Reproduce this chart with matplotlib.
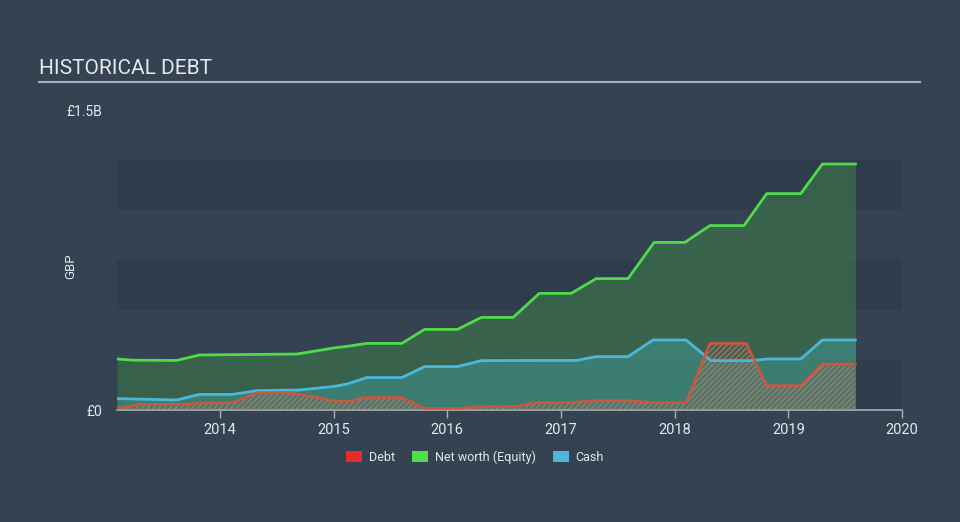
import matplotlib

matplotlib.use("Agg")
import matplotlib.pyplot as plt
from matplotlib.patches import Patch

# ── Data (GBP billions, time as decimal years) ──────────────────────────
EQUITY_T = [2013.095, 2013.24, 2013.62, 2013.82, 2014.68, 2015.0, 2015.14, 2015.29,
            2015.60, 2015.80, 2016.09, 2016.30, 2016.58, 2016.81, 2017.09, 2017.31,
            2017.59, 2017.82, 2018.09, 2018.31, 2018.61, 2018.81, 2019.11, 2019.30,
            2019.59]
EQUITY_V = [0.255, 0.249, 0.248, 0.275, 0.28, 0.31, 0.32, 0.333,
            0.333, 0.403, 0.403, 0.463, 0.463, 0.583, 0.583, 0.657,
            0.657, 0.838, 0.838, 0.922, 0.922, 1.082, 1.082, 1.23,
            1.23]

CASH_T = [2013.095, 2013.62, 2013.82, 2014.11, 2014.33, 2014.70, 2014.99, 2015.12,
          2015.29, 2015.60, 2015.80, 2016.09, 2016.30, 2017.14, 2017.31, 2017.59,
          2017.81, 2018.10, 2018.32, 2018.68, 2018.81, 2019.11, 2019.30, 2019.59]
CASH_V = [0.057, 0.05, 0.078, 0.078, 0.097, 0.10, 0.117, 0.13,
          0.162, 0.162, 0.217, 0.217, 0.247, 0.248, 0.267, 0.267,
          0.35, 0.35, 0.247, 0.247, 0.255, 0.255, 0.35, 0.35]

DEBT_T = [2013.095, 2013.30, 2013.76, 2013.82, 2014.11, 2014.33, 2014.59, 2014.82,
          2014.99, 2015.12, 2015.29, 2015.60, 2015.80, 2016.09, 2016.30, 2016.59,
          2016.79, 2017.09, 2017.31, 2017.59, 2017.81, 2018.10, 2018.31, 2018.63,
          2018.81, 2019.11, 2019.30, 2019.59]
DEBT_V = [0.008, 0.028, 0.03, 0.035, 0.036, 0.087, 0.087, 0.067,
          0.047, 0.042, 0.063, 0.063, 0.008, 0.008, 0.017, 0.017,
          0.037, 0.037, 0.047, 0.047, 0.037, 0.037, 0.333, 0.333,
          0.122, 0.122, 0.23, 0.23]

YEARS = [2014, 2015, 2016, 2017, 2018, 2019, 2020]

# ── Colours ─────────────────────────────────────────────────────────────
BG = "#344252"
BAND = "#2f3c4c"
GREEN = "#4fdc4a"
BLUE = "#4bb8da"
RED = "#e0452f"
TEXT = "#e6e9ec"
AXIS = "#a9b1ba"

fig = plt.figure(figsize=(9.6, 5.22), dpi=100)
fig.patch.set_facecolor(BG)

# ── Title + rule ──
fig.text(39 / 960, 1 - 69 / 522, "HISTORICAL DEBT", ha="left", va="center",
         fontsize=15, color=TEXT, family="Roboto")
fig.add_artist(plt.Line2D([39 / 960, 920 / 960], [1 - 82 / 522, 1 - 82 / 522],
                          color=AXIS, linewidth=1.5))

ax = fig.add_axes([117 / 960, 1 - 410 / 522, 785 / 960, 300 / 522])
ax.set_facecolor(BG)
ax.set_xlim(2013.095, 2020)
ax.set_ylim(0, 1.5)

# ── Alternating bands ──
for lo in (0.0, 0.5, 1.0):
    ax.axhspan(lo, lo + 0.25, color=BAND, zorder=0, linewidth=0)

# ── Equity ──
ax.fill_between(EQUITY_T, 0, EQUITY_V, color="#3d7a4a", alpha=0.6, linewidth=0, zorder=1)
ax.plot(EQUITY_T, EQUITY_V, color=GREEN, linewidth=2, zorder=4)

# ── Cash ──
ax.fill_between(CASH_T, 0, CASH_V, color="#3f8d88", alpha=0.65, linewidth=0, zorder=2)
ax.plot(CASH_T, CASH_V, color=BLUE, linewidth=2, zorder=4)

# ── Debt (hatched) ──
ax.fill_between(DEBT_T, 0, DEBT_V, facecolor="none", edgecolor="#9a8a80",
                hatch="//////", linewidth=0, zorder=3, alpha=0.8)
ax.fill_between(DEBT_T, 0, DEBT_V, color=RED, alpha=0.12, linewidth=0, zorder=3)
ax.plot(DEBT_T, DEBT_V, color="#d0553e", linewidth=1.8, zorder=4)

# ── Axes styling ──
for s in ("top", "right", "left"):
    ax.spines[s].set_visible(False)
ax.spines["bottom"].set_color(AXIS)
ax.spines["bottom"].set_linewidth(1.2)
ax.set_xticks(YEARS)
ax.set_xticklabels([str(y) for y in YEARS])
ax.tick_params(axis="x", colors=AXIS, length=6, width=1, labelcolor=TEXT,
               labelsize=10.5, pad=3)
ax.set_yticks([0, 1.5])
ax.set_yticklabels(["£0", "£1.5B"])
ax.tick_params(axis="y", length=0, labelcolor=TEXT, labelsize=10, pad=11)
for lab in ax.get_yticklabels() + ax.get_xticklabels():
    lab.set_family("Roboto")
ax.set_ylabel("GBP", color=TEXT, fontsize=9.5, family="Roboto")
ax.yaxis.set_label_coords(-40 / 785, 0.48)

# ── Legend ──
handles = [Patch(facecolor="#e8292f", label="Debt"),
           Patch(facecolor=GREEN, label="Net worth (Equity)"),
           Patch(facecolor=BLUE, label="Cash")]
leg = fig.legend(handles=handles, loc="center", bbox_to_anchor=(475 / 960, 1 - 457 / 522),
                 ncol=3, frameon=False, handlelength=1.3, handleheight=1.0,
                 columnspacing=1.4, handletextpad=0.5, prop={"family": "Roboto", "size": 9})
for t in leg.get_texts():
    t.set_color(TEXT)

fig.savefig("out.png", dpi=100, facecolor=BG)
